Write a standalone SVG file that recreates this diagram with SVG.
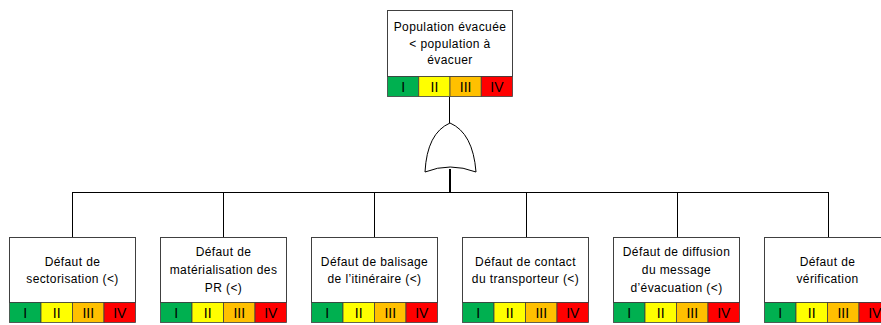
<svg xmlns="http://www.w3.org/2000/svg" width="881" height="325" viewBox="0 0 881 325">
<defs>
<style>
.box{fill:#fff;stroke:#404040;stroke-width:1}
.c1{fill:#00B050;stroke:#404040;stroke-width:0.8}
.c2{fill:#FFFF00;stroke:#404040;stroke-width:0.8}
.c3{fill:#FFC000;stroke:#404040;stroke-width:0.8}
.c4{fill:#FF0000;stroke:#404040;stroke-width:0.8}
.t{font-family:"Liberation Sans",Arial,sans-serif;font-size:12px;letter-spacing:0.4px;fill:#000;text-anchor:middle}
.r{font-family:"Liberation Sans",Arial,sans-serif;font-size:14px;fill:#000;text-anchor:middle}
.ln{stroke:#000;stroke-width:1;fill:none}
</style>
</defs>
<rect width="881" height="325" fill="#fff"/>
<g id="connectors">
<line class="ln" x1="449.5" y1="97" x2="449.5" y2="123"/>
<line x1="450" y1="169" x2="450" y2="192" stroke="#000" stroke-width="2"/>
<line class="ln" x1="72" y1="192.5" x2="828" y2="192.5"/>
<line class="ln" x1="72.5" y1="192" x2="72.5" y2="237"/>
<line class="ln" x1="223.5" y1="192" x2="223.5" y2="237"/>
<line class="ln" x1="374.5" y1="192" x2="374.5" y2="237"/>
<line class="ln" x1="526.5" y1="192" x2="526.5" y2="237"/>
<line class="ln" x1="677.5" y1="192" x2="677.5" y2="237"/>
<line class="ln" x1="828.5" y1="192" x2="828.5" y2="237"/>
</g>
<g id="gate">
<path d="M425,172 Q427,133 450,123 Q473,133 476,172 Q450,162 425,172 Z" fill="#fff" stroke="#000" stroke-width="1"/>
</g>
<g id="top">
<rect class="box" x="387.5" y="10.5" width="125" height="66"/>
<text class="t" x="450" y="31">Population évacuée</text>
<text class="t" x="450" y="48">&lt; population à</text>
<text class="t" x="450" y="64">évacuer</text>
<rect class="c1" x="387.5" y="76.5" width="31.25" height="20"/>
<rect class="c2" x="418.75" y="76.5" width="31.25" height="20"/>
<rect class="c3" x="450" y="76.5" width="31.25" height="20"/>
<rect class="c4" x="481.25" y="76.5" width="31.25" height="20"/>
<text class="r" x="403.1" y="91.5">I</text>
<text class="r" x="434.4" y="91.5">II</text>
<text class="r" x="465.6" y="91.5">III</text>
<text class="r" x="496.9" y="91.5">IV</text>
</g>
<g id="n1">
<rect class="box" x="9.5" y="237.5" width="126" height="65"/>
<text class="t" x="72.5" y="266">Défaut de</text>
<text class="t" x="72.5" y="283">sectorisation (&lt;)</text>
<rect class="c1" x="9.5" y="302.5" width="31.5" height="20"/>
<rect class="c2" x="41" y="302.5" width="31.5" height="20"/>
<rect class="c3" x="72.5" y="302.5" width="31.5" height="20"/>
<rect class="c4" x="104" y="302.5" width="31.5" height="20"/>
<text class="r" x="25.25" y="317.5">I</text>
<text class="r" x="56.75" y="317.5">II</text>
<text class="r" x="88.25" y="317.5">III</text>
<text class="r" x="119.75" y="317.5">IV</text>
</g>
<g id="n2">
<rect class="box" x="160.5" y="237.5" width="126" height="65"/>
<text class="t" x="223.5" y="256">Défaut de</text>
<text class="t" x="223.5" y="274">matérialisation des</text>
<text class="t" x="223.5" y="292">PR (&lt;)</text>
<rect class="c1" x="160.5" y="302.5" width="31.5" height="20"/>
<rect class="c2" x="192" y="302.5" width="31.5" height="20"/>
<rect class="c3" x="223.5" y="302.5" width="31.5" height="20"/>
<rect class="c4" x="255" y="302.5" width="31.5" height="20"/>
<text class="r" x="176.25" y="317.5">I</text>
<text class="r" x="207.75" y="317.5">II</text>
<text class="r" x="239.25" y="317.5">III</text>
<text class="r" x="270.75" y="317.5">IV</text>
</g>
<g id="n3">
<rect class="box" x="311.5" y="237.5" width="126" height="65"/>
<text class="t" x="374.5" y="266">Défaut de balisage</text>
<text class="t" x="374.5" y="283">de l’itinéraire (&lt;)</text>
<rect class="c1" x="311.5" y="302.5" width="31.5" height="20"/>
<rect class="c2" x="343" y="302.5" width="31.5" height="20"/>
<rect class="c3" x="374.5" y="302.5" width="31.5" height="20"/>
<rect class="c4" x="406" y="302.5" width="31.5" height="20"/>
<text class="r" x="327.25" y="317.5">I</text>
<text class="r" x="358.75" y="317.5">II</text>
<text class="r" x="390.25" y="317.5">III</text>
<text class="r" x="421.75" y="317.5">IV</text>
</g>
<g id="n4">
<rect class="box" x="462.5" y="237.5" width="126" height="65"/>
<text class="t" x="525.5" y="266">Défaut de contact</text>
<text class="t" x="525.5" y="283">du transporteur (&lt;)</text>
<rect class="c1" x="462.5" y="302.5" width="31.5" height="20"/>
<rect class="c2" x="494" y="302.5" width="31.5" height="20"/>
<rect class="c3" x="525.5" y="302.5" width="31.5" height="20"/>
<rect class="c4" x="557" y="302.5" width="31.5" height="20"/>
<text class="r" x="478.25" y="317.5">I</text>
<text class="r" x="509.75" y="317.5">II</text>
<text class="r" x="541.25" y="317.5">III</text>
<text class="r" x="572.75" y="317.5">IV</text>
</g>
<g id="n5">
<rect class="box" x="613.5" y="237.5" width="126" height="65"/>
<text class="t" x="676.5" y="256">Défaut de diffusion</text>
<text class="t" x="676.5" y="274">du message</text>
<text class="t" x="676.5" y="292">d’évacuation (&lt;)</text>
<rect class="c1" x="613.5" y="302.5" width="31.5" height="20"/>
<rect class="c2" x="645" y="302.5" width="31.5" height="20"/>
<rect class="c3" x="676.5" y="302.5" width="31.5" height="20"/>
<rect class="c4" x="708" y="302.5" width="31.5" height="20"/>
<text class="r" x="629.25" y="317.5">I</text>
<text class="r" x="660.75" y="317.5">II</text>
<text class="r" x="692.25" y="317.5">III</text>
<text class="r" x="723.75" y="317.5">IV</text>
</g>
<g id="n6">
<rect class="box" x="764.5" y="237.5" width="126" height="65"/>
<text class="t" x="827.5" y="266">Défaut de</text>
<text class="t" x="827.5" y="283">vérification</text>
<rect class="c1" x="764.5" y="302.5" width="31.5" height="20"/>
<rect class="c2" x="796" y="302.5" width="31.5" height="20"/>
<rect class="c3" x="827.5" y="302.5" width="31.5" height="20"/>
<rect class="c4" x="859" y="302.5" width="31.5" height="20"/>
<text class="r" x="780.25" y="317.5">I</text>
<text class="r" x="811.75" y="317.5">II</text>
<text class="r" x="843.25" y="317.5">III</text>
<text class="r" x="874.75" y="317.5">IV</text>
</g>
</svg>
